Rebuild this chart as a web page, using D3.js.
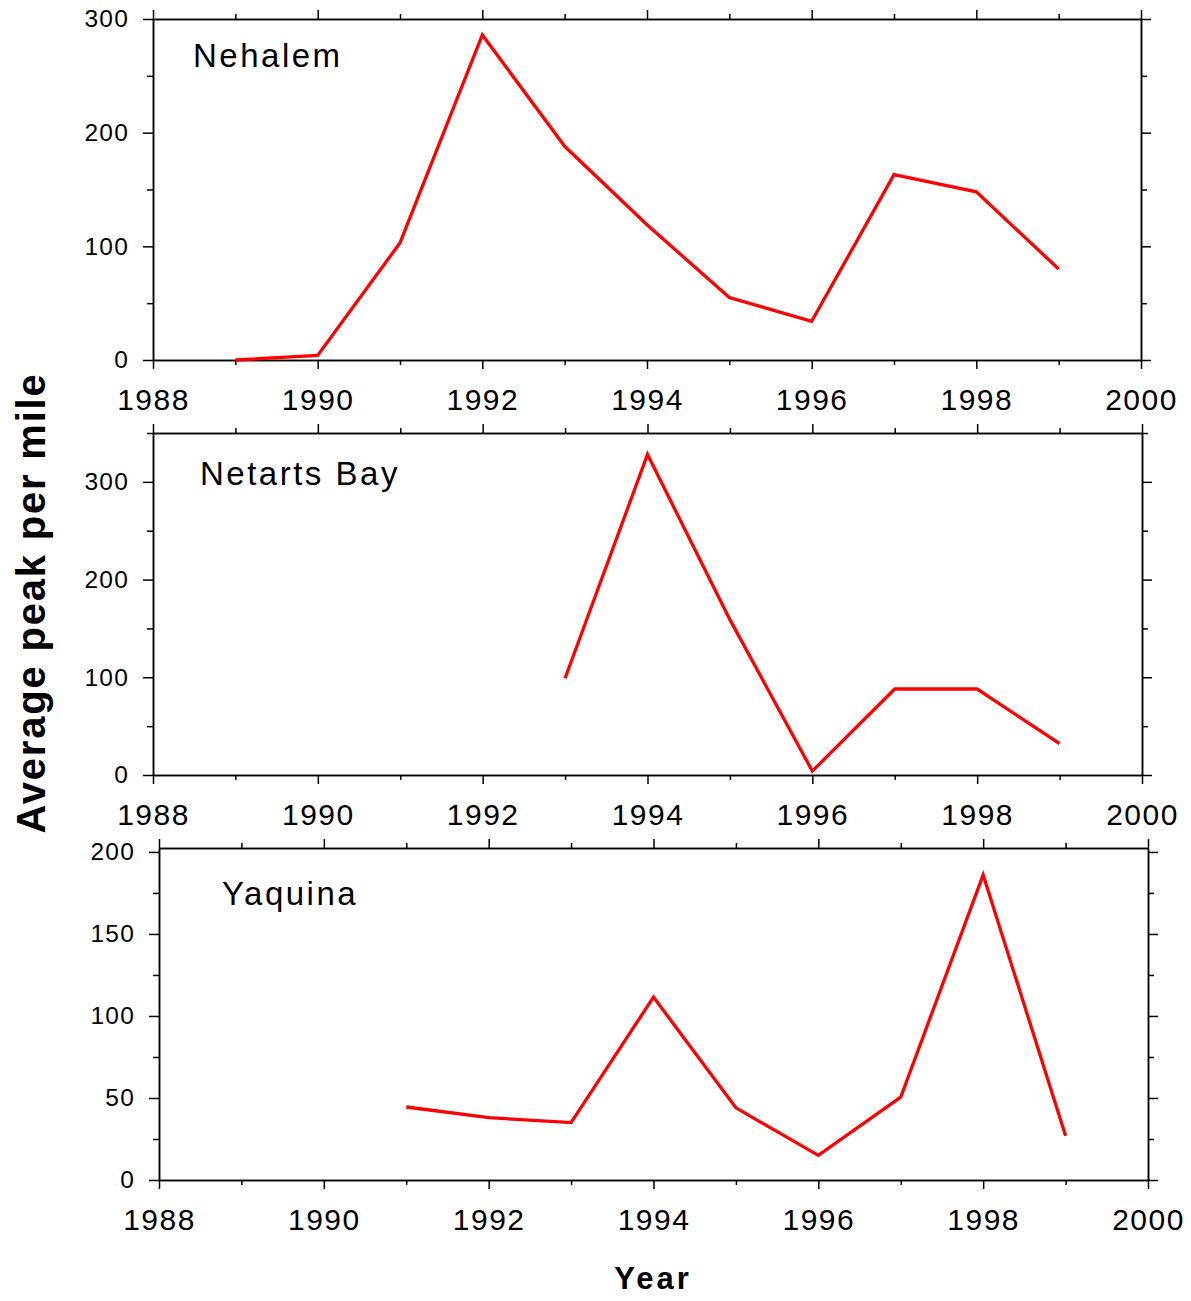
<!DOCTYPE html>
<html>
<head>
<meta charset="utf-8">
<script src="https://cdn.jsdelivr.net/npm/d3@7"></script>
<style>
  body { margin: 0; background: #fff; }
  svg { display: block; font-family: "Liberation Sans", Arial, sans-serif; }
</style>
</head>
<body>
<svg id="chart" width="1191" height="1301"></svg>
<script>
// ---- Data ----
const xMajorTicks = [1988, 1990, 1992, 1994, 1996, 1998, 2000];
const xMinorTicks = [1989, 1991, 1993, 1995, 1997, 1999];

const nehalemYears  = [1989, 1990, 1991, 1992, 1993, 1994, 1995, 1996, 1997, 1998, 1999];
const nehalemValues = [0, 4, 103, 286, 188, 119, 55, 34, 163, 148, 80];

const netartsYears  = [1993, 1994, 1995, 1996, 1997, 1998, 1999];
const netartsValues = [99, 328, 159, 4, 88, 88, 32];

const yaquinaYears  = [1991, 1992, 1993, 1994, 1995, 1996, 1997, 1998, 1999];
const yaquinaValues = [44.5, 38, 35, 111.5, 44, 15, 50.5, 186, 27];

const panelTitles = ["Nehalem", "Netarts Bay", "Yaquina"];
const nehalemYMajor = [0, 100, 200, 300];
const nehalemYMinor = [50, 150, 250];
const netartsYMajor = [0, 100, 200, 300];
const netartsYMinor = [50, 150, 250, 350];
const yaquinaYMajor = [0, 50, 100, 150, 200];
const yaquinaYMinor = [25, 75, 125, 175];

const xTitle = "Year";
const yTitle = "Average peak per mile";

// ---- Layout ----
const panels = [
  { title: panelTitles[0], years: nehalemYears, values: nehalemValues, yMax: 300, yMajor: nehalemYMajor, yMinor: nehalemYMinor,
    left: 153, right: 1141, top: 19, bottom: 360, tx: 193, ty: 67 },
  { title: panelTitles[1], years: netartsYears, values: netartsValues, yMax: 350, yMajor: netartsYMajor, yMinor: netartsYMinor,
    left: 153, right: 1142, top: 433, bottom: 775, tx: 200, ty: 485 },
  { title: panelTitles[2], years: yaquinaYears, values: yaquinaValues, yMax: 202.4, yMajor: yaquinaYMajor, yMinor: yaquinaYMinor,
    left: 159, right: 1148, top: 848, bottom: 1180, tx: 222, ty: 905 }
];

const svg = d3.select("#chart");

function styleAxis(g) {
  g.selectAll("path.domain").attr("stroke", "#000").attr("stroke-width", 1.5);
  g.selectAll(".tick line").attr("stroke", "#000").attr("stroke-width", 1.5);
}

panels.forEach(p => {
  const x = d3.scaleLinear().domain([1988, 2000]).range([p.left, p.right]);
  const y = d3.scaleLinear().domain([0, p.yMax]).range([p.bottom, p.top]);
  const g = svg.append("g");

  // bottom axis: majors with labels
  const bottom = g.append("g").attr("transform", `translate(0,${p.bottom})`)
    .call(d3.axisBottom(x).tickValues(xMajorTicks).tickSize(9).tickSizeOuter(0)
      .tickPadding(20).tickFormat(d3.format("d")));
  bottom.selectAll("text").attr("font-size", 30).attr("fill", "#000")
    .attr("letter-spacing", 1.5).attr("font-family", "Liberation Sans, Arial, sans-serif");
  styleAxis(bottom);
  const bottomMinor = g.append("g").attr("transform", `translate(0,${p.bottom})`)
    .call(d3.axisBottom(x).tickValues(xMinorTicks).tickSize(5).tickSizeOuter(0).tickFormat(""));
  styleAxis(bottomMinor);

  // top axis
  const top = g.append("g").attr("transform", `translate(0,${p.top})`)
    .call(d3.axisTop(x).tickValues(xMajorTicks).tickSize(9).tickSizeOuter(0).tickFormat(""));
  styleAxis(top);
  const topMinor = g.append("g").attr("transform", `translate(0,${p.top})`)
    .call(d3.axisTop(x).tickValues(xMinorTicks).tickSize(5).tickSizeOuter(0).tickFormat(""));
  styleAxis(topMinor);

  // left axis
  const left = g.append("g").attr("transform", `translate(${p.left},0)`)
    .call(d3.axisLeft(y).tickValues(p.yMajor).tickSize(10).tickSizeOuter(0)
      .tickPadding(14).tickFormat(d3.format("d")));
  left.selectAll("text").attr("font-size", 24.5).attr("fill", "#000")
    .attr("letter-spacing", 1.2).attr("font-family", "Liberation Sans, Arial, sans-serif");
  styleAxis(left);
  const leftMinor = g.append("g").attr("transform", `translate(${p.left},0)`)
    .call(d3.axisLeft(y).tickValues(p.yMinor).tickSize(6).tickSizeOuter(0).tickFormat(""));
  styleAxis(leftMinor);

  // right axis
  const right = g.append("g").attr("transform", `translate(${p.right},0)`)
    .call(d3.axisRight(y).tickValues(p.yMajor).tickSize(10).tickSizeOuter(0).tickFormat(""));
  styleAxis(right);
  const rightMinor = g.append("g").attr("transform", `translate(${p.right},0)`)
    .call(d3.axisRight(y).tickValues(p.yMinor).tickSize(6).tickSizeOuter(0).tickFormat(""));
  styleAxis(rightMinor);

  // data line
  const pts = p.years.map((yr, i) => [yr, p.values[i]]);
  const line = d3.line().x(d => x(d[0])).y(d => y(d[1]));
  g.append("path").datum(pts)
    .attr("d", line)
    .attr("fill", "none")
    .attr("stroke", "#ff0000")
    .attr("stroke-width", 3.3)
    .attr("stroke-linejoin", "miter");

  // panel title
  g.append("text")
    .attr("x", p.tx).attr("y", p.ty)
    .attr("font-size", 33)
    .attr("letter-spacing", 2.5)
    .attr("fill", "#000")
    .text(p.title);
});

// axis titles
svg.append("text")
  .attr("transform", "translate(45,603) rotate(-90)")
  .attr("text-anchor", "middle")
  .attr("font-size", 40)
  .attr("font-weight", "bold")
  .attr("letter-spacing", 1.8)
  .attr("fill", "#000")
  .text(yTitle);

svg.append("text")
  .attr("x", 653).attr("y", 1289)
  .attr("text-anchor", "middle")
  .attr("font-size", 31)
  .attr("font-weight", "bold")
  .attr("letter-spacing", 3)
  .attr("fill", "#000")
  .text(xTitle);
</script>
</body>
</html>
